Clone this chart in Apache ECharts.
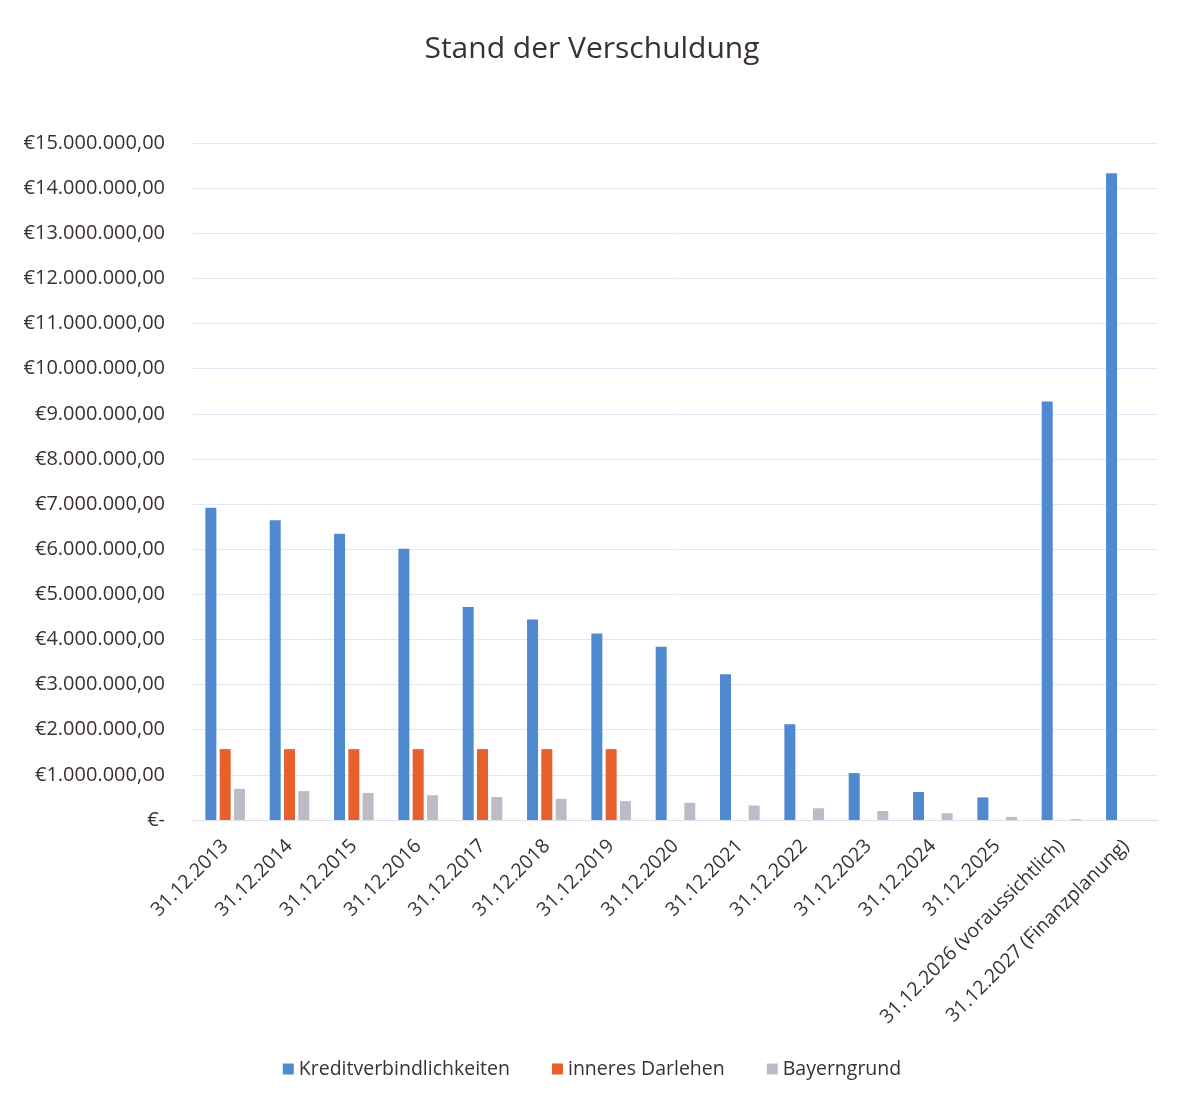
<!DOCTYPE html>
<html lang="de">
<head>
    <meta charset="UTF-8">
    <title>Stand der Verschuldung</title>
    <style>
        html, body { margin: 0; padding: 0; background: #fff; }
    </style>
</head>
<body>
<div id="main" style="width:1184px; height:1098px"></div>

<script src="https://cdn.jsdelivr.net/npm/echarts@6/dist/echarts.min.js"></script>
<script>
    // Stichtage (x-Achse)
    var stichtage = ['31.12.2013', '31.12.2014', '31.12.2015', '31.12.2016', '31.12.2017',
        '31.12.2018', '31.12.2019', '31.12.2020', '31.12.2021', '31.12.2022', '31.12.2023',
        '31.12.2024', '31.12.2025', '31.12.2026 (voraussichtlich)', '31.12.2027 (Finanzplanung)'];

    // Werte in Euro
    var kredit = [6920000, 6640000, 6340000, 6010000, 4720000, 4440000, 4130000, 3840000,
        3230000, 2120000, 1040000, 620000, 500000, 9270000, 14330000];
    var darlehen = [1570000, 1570000, 1570000, 1570000, 1570000, 1570000, 1570000,
        0, 0, 0, 0, 0, 0, 0, 0];
    var bayerngrund = [690000, 640000, 600000, 550000, 510000, 470000, 420000, 380000,
        320000, 260000, 200000, 150000, 70000, 20000, 0];

    var serienNamen = ['Kreditverbindlichkeiten', 'inneres Darlehen', 'Bayerngrund'];

    var myChart = echarts.init(document.getElementById('main'));

    function euro(v) {
        if (v === 0) return '€-';
        var s = String(Math.round(v)).replace(/\B(?=(\d{3})+(?!\d))/g, '.');
        return '€' + s + ',00';
    }

    var font = '"Open Sans", "DejaVu Sans", sans-serif';

    var option = {
        backgroundColor: '#ffffff',
        color: ['#4f8ad0', '#e8602c', '#bcbcc8'],
        title: {
            text: 'Stand der Verschuldung',
            left: 'center',
            top: 29,
            textStyle: { fontFamily: font, fontSize: 30, fontWeight: 'normal', color: '#3a3035' }
        },
        legend: {
            data: serienNamen,
            bottom: 14,
            left: 'center',
            itemWidth: 11,
            itemHeight: 11,
            itemGap: 42,
            icon: 'rect',
            textStyle: { fontFamily: font, fontSize: 19.5, color: '#3a3035' }
        },
        grid: {
            left: 193,
            right: 26,
            top: 143,
            bottom: 278,
            containLabel: false
        },
        xAxis: {
            type: 'category',
            data: stichtage,
            axisTick: { show: false },
            axisLine: { lineStyle: { color: '#dcdce6' } },
            axisLabel: {
                rotate: 45,
                interval: 0,
                margin: 23,
                fontFamily: font,
                fontSize: 19.5,
                color: '#3a3035'
            }
        },
        yAxis: {
            type: 'value',
            min: 0,
            max: 15000000,
            interval: 1000000,
            axisLine: { show: false },
            axisTick: { show: false },
            splitLine: { lineStyle: { color: '#e3e6f6' } },
            axisLabel: {
                margin: 28,
                fontFamily: font,
                fontSize: 20,
                color: '#3a3035',
                formatter: euro
            }
        },
        series: [
            { name: serienNamen[0], type: 'bar', data: kredit, barWidth: 11, barGap: '30%' },
            { name: serienNamen[1], type: 'bar', data: darlehen, barWidth: 11, barGap: '30%' },
            { name: serienNamen[2], type: 'bar', data: bayerngrund, barWidth: 11, barGap: '30%' }
        ]
    };

    myChart.setOption(option);
</script>
</body>
</html>
